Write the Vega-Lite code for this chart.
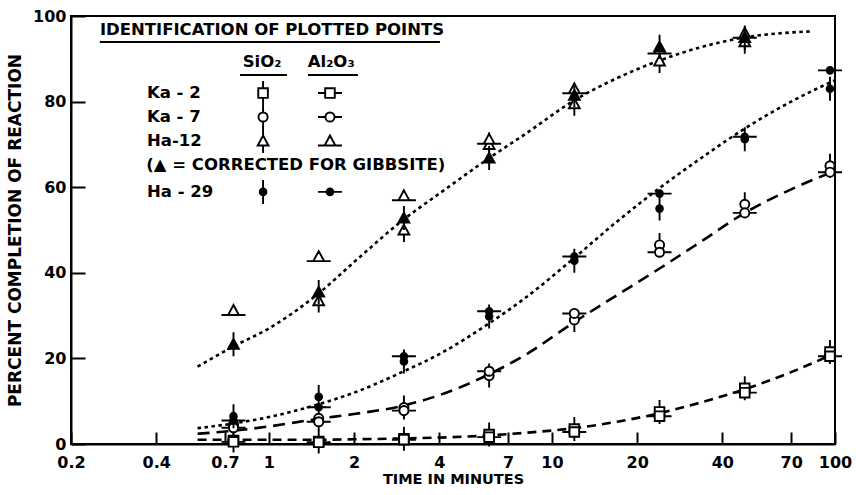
{
  "$schema": "https://vega.github.io/schema/vega-lite/v6.json",
  "width": 764,
  "height": 428,
  "autosize": {"type": "none"},
  "padding": {"left": 71, "top": 16, "right": 21, "bottom": 51},
  "background": "white",
  "config": {
    "font": "DejaVu Sans",
    "view": {"stroke": "black", "strokeWidth": 2},
    "axis": {
      "grid": false,
      "domainColor": "black",
      "domainWidth": 2,
      "tickColor": "black",
      "tickWidth": 2,
      "labelColor": "black",
      "labelFont": "DejaVu Sans",
      "labelFontSize": 16,
      "labelFontWeight": "bold",
      "titleColor": "black",
      "titleFont": "DejaVu Sans",
      "titleFontWeight": "bold"
    }
  },
  "datasets": {
    "curves": [
      {"curve": "Ha-12", "t": 0.56, "pct": 18.1}, {"curve": "Ha-12", "t": 0.75, "pct": 22.8},
      {"curve": "Ha-12", "t": 1, "pct": 27.0}, {"curve": "Ha-12", "t": 1.5, "pct": 35.2},
      {"curve": "Ha-12", "t": 2, "pct": 42.5}, {"curve": "Ha-12", "t": 3, "pct": 52.5},
      {"curve": "Ha-12", "t": 4, "pct": 58.5}, {"curve": "Ha-12", "t": 6, "pct": 66.8},
      {"curve": "Ha-12", "t": 8, "pct": 72.3}, {"curve": "Ha-12", "t": 12, "pct": 80.3},
      {"curve": "Ha-12", "t": 17, "pct": 85.5}, {"curve": "Ha-12", "t": 24, "pct": 89.6},
      {"curve": "Ha-12", "t": 34, "pct": 92.8}, {"curve": "Ha-12", "t": 48, "pct": 95.0},
      {"curve": "Ha-12", "t": 65, "pct": 96.0}, {"curve": "Ha-12", "t": 82, "pct": 96.4},

      {"curve": "Ha-29", "t": 0.56, "pct": 3.7}, {"curve": "Ha-29", "t": 0.75, "pct": 4.8},
      {"curve": "Ha-29", "t": 1, "pct": 6.3}, {"curve": "Ha-29", "t": 1.5, "pct": 9.3},
      {"curve": "Ha-29", "t": 2, "pct": 12.0}, {"curve": "Ha-29", "t": 3, "pct": 17.0},
      {"curve": "Ha-29", "t": 4, "pct": 21.0}, {"curve": "Ha-29", "t": 6, "pct": 28.2},
      {"curve": "Ha-29", "t": 8, "pct": 34.0}, {"curve": "Ha-29", "t": 12, "pct": 43.5},
      {"curve": "Ha-29", "t": 17, "pct": 52.0}, {"curve": "Ha-29", "t": 24, "pct": 59.8},
      {"curve": "Ha-29", "t": 34, "pct": 67.0}, {"curve": "Ha-29", "t": 48, "pct": 73.7},
      {"curve": "Ha-29", "t": 70, "pct": 80.0}, {"curve": "Ha-29", "t": 100, "pct": 85.0},

      {"curve": "Ka-7", "t": 0.56, "pct": 2.4}, {"curve": "Ka-7", "t": 0.75, "pct": 3.1},
      {"curve": "Ka-7", "t": 1, "pct": 4.1}, {"curve": "Ka-7", "t": 1.5, "pct": 5.9},
      {"curve": "Ka-7", "t": 2, "pct": 7.0}, {"curve": "Ka-7", "t": 3, "pct": 9.0},
      {"curve": "Ka-7", "t": 4, "pct": 11.4}, {"curve": "Ka-7", "t": 6, "pct": 16.3},
      {"curve": "Ka-7", "t": 8, "pct": 20.7}, {"curve": "Ka-7", "t": 12, "pct": 28.5},
      {"curve": "Ka-7", "t": 17, "pct": 34.8}, {"curve": "Ka-7", "t": 24, "pct": 41.0},
      {"curve": "Ka-7", "t": 34, "pct": 47.5}, {"curve": "Ka-7", "t": 48, "pct": 54.0},
      {"curve": "Ka-7", "t": 70, "pct": 59.5}, {"curve": "Ka-7", "t": 100, "pct": 63.8},

      {"curve": "Ka-2", "t": 0.56, "pct": 1.0}, {"curve": "Ka-2", "t": 1, "pct": 1.0},
      {"curve": "Ka-2", "t": 1.5, "pct": 1.0}, {"curve": "Ka-2", "t": 2, "pct": 1.1},
      {"curve": "Ka-2", "t": 3, "pct": 1.3}, {"curve": "Ka-2", "t": 4, "pct": 1.5},
      {"curve": "Ka-2", "t": 6, "pct": 2.0}, {"curve": "Ka-2", "t": 8, "pct": 2.6},
      {"curve": "Ka-2", "t": 12, "pct": 3.7}, {"curve": "Ka-2", "t": 17, "pct": 5.2},
      {"curve": "Ka-2", "t": 24, "pct": 7.2}, {"curve": "Ka-2", "t": 34, "pct": 9.8},
      {"curve": "Ka-2", "t": 48, "pct": 12.8}, {"curve": "Ka-2", "t": 70, "pct": 16.8},
      {"curve": "Ka-2", "t": 100, "pct": 21.2}
    ],
    "obs": [
      {"symbol": "Ka-2 SiO2", "t": 0.75, "pct": 0.8}, {"symbol": "Ka-2 SiO2", "t": 1.5, "pct": 0.6},
      {"symbol": "Ka-2 SiO2", "t": 3, "pct": 1.2}, {"symbol": "Ka-2 SiO2", "t": 6, "pct": 2.2},
      {"symbol": "Ka-2 SiO2", "t": 12, "pct": 3.5}, {"symbol": "Ka-2 SiO2", "t": 24, "pct": 7.5},
      {"symbol": "Ka-2 SiO2", "t": 48, "pct": 13.0}, {"symbol": "Ka-2 SiO2", "t": 96, "pct": 21.5},
      {"symbol": "Ka-2 Al2O3", "t": 0.75, "pct": 0.5}, {"symbol": "Ka-2 Al2O3", "t": 1.5, "pct": 0.4},
      {"symbol": "Ka-2 Al2O3", "t": 3, "pct": 1.0}, {"symbol": "Ka-2 Al2O3", "t": 6, "pct": 1.6},
      {"symbol": "Ka-2 Al2O3", "t": 12, "pct": 2.8}, {"symbol": "Ka-2 Al2O3", "t": 24, "pct": 6.5},
      {"symbol": "Ka-2 Al2O3", "t": 48, "pct": 12.0}, {"symbol": "Ka-2 Al2O3", "t": 96, "pct": 20.5},

      {"symbol": "Ka-7 SiO2", "t": 0.75, "pct": 4.5}, {"symbol": "Ka-7 SiO2", "t": 1.5, "pct": 6.0},
      {"symbol": "Ka-7 SiO2", "t": 3, "pct": 8.5}, {"symbol": "Ka-7 SiO2", "t": 6, "pct": 16.0},
      {"symbol": "Ka-7 SiO2", "t": 12, "pct": 29.0}, {"symbol": "Ka-7 SiO2", "t": 24, "pct": 46.5},
      {"symbol": "Ka-7 SiO2", "t": 48, "pct": 56.0}, {"symbol": "Ka-7 SiO2", "t": 96, "pct": 65.0},
      {"symbol": "Ka-7 Al2O3", "t": 0.75, "pct": 3.8}, {"symbol": "Ka-7 Al2O3", "t": 1.5, "pct": 5.2},
      {"symbol": "Ka-7 Al2O3", "t": 3, "pct": 7.8}, {"symbol": "Ka-7 Al2O3", "t": 6, "pct": 17.0},
      {"symbol": "Ka-7 Al2O3", "t": 12, "pct": 30.5}, {"symbol": "Ka-7 Al2O3", "t": 24, "pct": 44.8},
      {"symbol": "Ka-7 Al2O3", "t": 48, "pct": 54.0}, {"symbol": "Ka-7 Al2O3", "t": 96, "pct": 63.5},

      {"symbol": "Ha-29 SiO2", "t": 0.75, "pct": 6.5}, {"symbol": "Ha-29 SiO2", "t": 1.5, "pct": 11.0},
      {"symbol": "Ha-29 SiO2", "t": 3, "pct": 19.3}, {"symbol": "Ha-29 SiO2", "t": 6, "pct": 29.8},
      {"symbol": "Ha-29 SiO2", "t": 12, "pct": 42.8}, {"symbol": "Ha-29 SiO2", "t": 24, "pct": 55.0},
      {"symbol": "Ha-29 SiO2", "t": 48, "pct": 71.2}, {"symbol": "Ha-29 SiO2", "t": 96, "pct": 83.0},
      {"symbol": "Ha-29 Al2O3", "t": 0.75, "pct": 5.5}, {"symbol": "Ha-29 Al2O3", "t": 1.5, "pct": 8.6},
      {"symbol": "Ha-29 Al2O3", "t": 3, "pct": 20.5}, {"symbol": "Ha-29 Al2O3", "t": 6, "pct": 31.0},
      {"symbol": "Ha-29 Al2O3", "t": 12, "pct": 43.8}, {"symbol": "Ha-29 Al2O3", "t": 24, "pct": 58.5},
      {"symbol": "Ha-29 Al2O3", "t": 48, "pct": 71.8}, {"symbol": "Ha-29 Al2O3", "t": 96, "pct": 87.3},

      {"symbol": "Ha-12 SiO2", "t": 1.5, "pct": 33.5}, {"symbol": "Ha-12 SiO2", "t": 3, "pct": 50.0},
      {"symbol": "Ha-12 SiO2", "t": 6, "pct": 70.0}, {"symbol": "Ha-12 SiO2", "t": 12, "pct": 79.5},
      {"symbol": "Ha-12 SiO2", "t": 24, "pct": 89.5}, {"symbol": "Ha-12 SiO2", "t": 48, "pct": 94.0},
      {"symbol": "Ha-12 Al2O3", "t": 0.75, "pct": 31.2}, {"symbol": "Ha-12 Al2O3", "t": 1.5, "pct": 43.8},
      {"symbol": "Ha-12 Al2O3", "t": 3, "pct": 58.0}, {"symbol": "Ha-12 Al2O3", "t": 6, "pct": 71.2},
      {"symbol": "Ha-12 Al2O3", "t": 12, "pct": 83.0}, {"symbol": "Ha-12 Al2O3", "t": 24, "pct": 92.3},
      {"symbol": "Ha-12 Al2O3", "t": 48, "pct": 96.0},
      {"symbol": "Ha-12 SiO2 corrected", "t": 0.75, "pct": 23.3}, {"symbol": "Ha-12 SiO2 corrected", "t": 1.5, "pct": 35.5},
      {"symbol": "Ha-12 SiO2 corrected", "t": 3, "pct": 52.8}, {"symbol": "Ha-12 SiO2 corrected", "t": 6, "pct": 66.8},
      {"symbol": "Ha-12 SiO2 corrected", "t": 12, "pct": 81.5}, {"symbol": "Ha-12 SiO2 corrected", "t": 24, "pct": 92.8},
      {"symbol": "Ha-12 SiO2 corrected", "t": 48, "pct": 95.0}
    ],
    "key_sym": [
      {"symbol": "Ka-2 SiO2", "t": 0.954, "pct": 82.0}, {"symbol": "Ka-2 Al2O3", "t": 1.644, "pct": 82.0},
      {"symbol": "Ka-7 SiO2", "t": 0.954, "pct": 76.4}, {"symbol": "Ka-7 Al2O3", "t": 1.644, "pct": 76.4},
      {"symbol": "Ha-12 SiO2", "t": 0.954, "pct": 70.8}, {"symbol": "Ha-12 Al2O3", "t": 1.644, "pct": 70.8},
      {"symbol": "Ha-29 SiO2", "t": 0.954, "pct": 58.9}, {"symbol": "Ha-29 Al2O3", "t": 1.644, "pct": 58.9}
    ],
    "key_text": [
      {"role": "left", "label": "IDENTIFICATION OF PLOTTED POINTS", "t": 0.253, "pct": 96.7},
      {"role": "center", "label": "SiO₂", "t": 0.946, "pct": 89.3},
      {"role": "center", "label": "Al₂O₃", "t": 1.66, "pct": 89.3},
      {"role": "left", "label": "Ka - 2", "t": 0.371, "pct": 82.0},
      {"role": "left", "label": "Ka - 7", "t": 0.371, "pct": 76.4},
      {"role": "left", "label": "Ha-12", "t": 0.371, "pct": 70.8},
      {"role": "left", "label": "(▲ = CORRECTED FOR GIBBSITE)", "t": 0.369, "pct": 65.2},
      {"role": "left", "label": "Ha - 29", "t": 0.371, "pct": 58.9}
    ],
    "key_rules": [
      {"t": 0.253, "t2": 4.02, "pct": 93.9},
      {"t": 0.791, "t2": 1.159, "pct": 86.2},
      {"t": 1.375, "t2": 2.064, "pct": 86.2}
    ]
  },
  "layer": [
    {
      "data": {"name": "curves"},
      "mark": {"type": "line", "color": "black", "strokeWidth": 2.6, "interpolate": "monotone", "strokeCap": "butt"},
      "encoding": {
        "x": {
          "field": "t", "type": "quantitative",
          "scale": {"type": "log", "domain": [0.2, 100], "nice": false},
          "axis": {
            "title": "TIME IN MINUTES",
            "values": [0.2, 0.4, 0.7, 1, 2, 4, 7, 10, 20, 40, 70, 100],
            "format": "~g",
            "labelFlush": false,
            "labelOverlap": false,
            "tickSize": -12,
            "labelPadding": 22,
            "titleFontSize": 14.5,
            "titlePadding": 2
          }
        },
        "y": {
          "field": "pct", "type": "quantitative",
          "scale": {"domain": [0, 100], "nice": false},
          "axis": {
            "title": "PERCENT COMPLETION OF REACTION",
            "values": [0, 20, 40, 60, 80, 100],
            "tickSize": -14,
            "labelPadding": 19,
            "titleFontSize": 17,
            "titlePadding": 8
          }
        },
        "strokeDash": {
          "field": "curve", "type": "nominal",
          "scale": {"domain": ["Ha-12", "Ha-29", "Ka-7", "Ka-2"], "range": [[3.5, 3.5], [3.5, 3.5], [12, 7], [9, 6]]},
          "legend": null
        }
      }
    },
    {
      "data": {"name": "key_rules"},
      "mark": {"type": "rule", "color": "black", "strokeWidth": 2},
      "encoding": {
        "x": {"field": "t", "type": "quantitative"},
        "x2": {"field": "t2"},
        "y": {"field": "pct", "type": "quantitative"}
      }
    },
    {
      "data": {"name": "key_text"},
      "transform": [{"filter": "datum.role === 'left'"}],
      "mark": {"type": "text", "align": "left", "baseline": "middle", "fontSize": 16.5, "fontWeight": "bold", "color": "black", "font": "DejaVu Sans"},
      "encoding": {
        "x": {"field": "t", "type": "quantitative"},
        "y": {"field": "pct", "type": "quantitative"},
        "text": {"field": "label"}
      }
    },
    {
      "data": {"name": "key_text"},
      "transform": [{"filter": "datum.role === 'center'"}],
      "mark": {"type": "text", "align": "center", "baseline": "middle", "fontSize": 16.5, "fontWeight": "bold", "color": "black", "font": "DejaVu Sans"},
      "encoding": {
        "x": {"field": "t", "type": "quantitative"},
        "y": {"field": "pct", "type": "quantitative"},
        "text": {"field": "label"}
      }
    },
    {
      "data": {"name": "obs"},
      "mark": {"type": "point", "filled": true, "stroke": "black", "strokeWidth": 1.9, "size": 576, "opacity": 1},
      "encoding": {
        "x": {"field": "t", "type": "quantitative"},
        "y": {"field": "pct", "type": "quantitative"},
        "shape": {
          "field": "symbol", "type": "nominal", "legend": null,
          "scale": {
            "domain": ["Ka-2 SiO2", "Ka-2 Al2O3", "Ka-7 SiO2", "Ka-7 Al2O3", "Ha-12 SiO2", "Ha-12 Al2O3", "Ha-12 SiO2 corrected", "Ha-29 SiO2", "Ha-29 Al2O3"],
            "range": [
              "M-0.4,-0.4H0.4V0.4H-0.4Z M0,-0.4V-1 M0,0.4V1",
              "M-0.4,-0.4H0.4V0.4H-0.4Z M-0.4,0H-1 M0.4,0H1",
              "M-0.38,0A0.38,0.38 0 1 0 0.38,0A0.38,0.38 0 1 0 -0.38,0Z M0,-0.38V-1 M0,0.38V1",
              "M-0.38,0A0.38,0.38 0 1 0 0.38,0A0.38,0.38 0 1 0 -0.38,0Z M-0.38,0H-1 M0.38,0H1",
              "M0,-0.45L0.45,0.38H-0.45Z M0,-0.45V-1 M0,0.38V1",
              "M0,-0.45L0.45,0.38H-0.45Z M-0.45,0.38H-1 M0.45,0.38H1",
              "M0,-0.45L0.45,0.38H-0.45Z M0,-0.45V-1 M0,0.38V1",
              "M-0.28,0A0.28,0.28 0 1 0 0.28,0A0.28,0.28 0 1 0 -0.28,0Z M0,-0.28V-1 M0,0.28V1",
              "M-0.28,0A0.28,0.28 0 1 0 0.28,0A0.28,0.28 0 1 0 -0.28,0Z M-0.28,0H-1 M0.28,0H1"
            ]
          }
        },
        "fill": {
          "field": "symbol", "type": "nominal", "legend": null,
          "scale": {
            "domain": ["Ka-2 SiO2", "Ka-2 Al2O3", "Ka-7 SiO2", "Ka-7 Al2O3", "Ha-12 SiO2", "Ha-12 Al2O3", "Ha-12 SiO2 corrected", "Ha-29 SiO2", "Ha-29 Al2O3"],
            "range": ["white", "white", "white", "white", "white", "white", "black", "black", "black"]
          }
        }
      }
    },
    {
      "data": {"name": "key_sym"},
      "mark": {"type": "point", "filled": true, "stroke": "black", "strokeWidth": 1.9, "size": 576, "opacity": 1},
      "encoding": {
        "x": {"field": "t", "type": "quantitative"},
        "y": {"field": "pct", "type": "quantitative"},
        "shape": {"field": "symbol", "type": "nominal", "legend": null},
        "fill": {"field": "symbol", "type": "nominal", "legend": null}
      }
    }
  ]
}
